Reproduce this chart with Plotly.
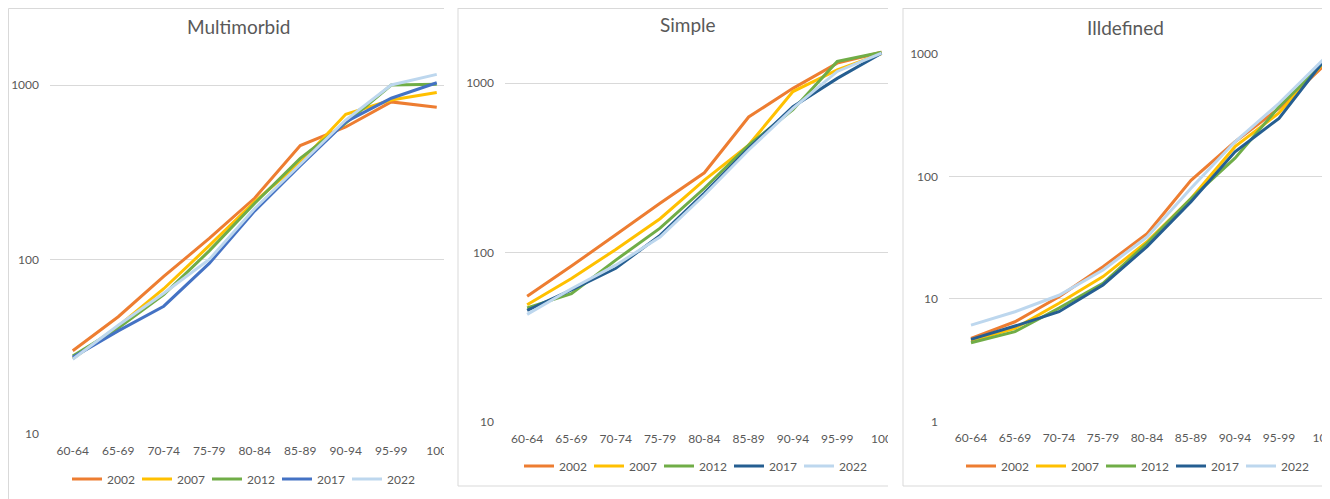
import plotly.graph_objects as go

# The page body has an 8px margin, so the figure is shifted by this offset
OFF = 8
W, H = 1330 - OFF, 499 - OFF

categories = ["60-64", "65-69", "70-74", "75-79", "80-84", "85-89", "90-94", "95-99", "100"]
years = ["2002", "2007", "2012", "2017", "2022"]
y_ticks = [1, 10, 100, 1000]

# Multimorbid
multimorbid_2002 = [30, 47, 80, 132, 225, 450, 575, 800, 745]
multimorbid_2007 = [27, 41.5, 68, 120, 215, 360, 680, 820, 905]
multimorbid_2012 = [28, 40.5, 63, 112, 210, 380, 605, 1000, 1010]
multimorbid_2017 = [27.5, 39, 54, 95, 190, 345, 615, 840, 1030]
multimorbid_2022 = [26.8, 42, 64, 100, 196, 350, 630, 1000, 1150]

# Simple
simple_2002 = [55, 83, 127, 195, 295, 630, 930, 1310, 1520]
simple_2007 = [49, 70, 104, 158, 267, 430, 890, 1195, 1490]
simple_2012 = [47, 57, 90, 139, 239, 430, 695, 1340, 1520]
simple_2017 = [45.5, 60, 80.5, 126, 224, 411, 724, 1065, 1500]
simple_2022 = [43, 61, 84, 123, 218, 402, 708, 1170, 1500]

# Illdefined
illdefined_2002 = [4.75, 6.5, 10.4, 18.3, 34, 93, 192, 360, 790]
illdefined_2007 = [4.55, 5.75, 9.2, 15.2, 29.3, 66, 175, 330, 840]
illdefined_2012 = [4.38, 5.4, 8.4, 13.4, 28.4, 66, 141, 370, 840]
illdefined_2017 = [4.67, 6.0, 7.85, 13, 26.7, 62, 159, 298, 865]
illdefined_2022 = [6.1, 7.85, 10.7, 17.2, 32, 80, 192, 396, 895]

FONT = "Lato, 'Open Sans', sans-serif"
TXT = "#595959"
GRID = "#D9D9D9"


def fx(x):
    return (x - OFF) / W


def fy(y):
    return 1 - (y - OFF) / H


panels = [
    dict(title="Multimorbid",
         series=[multimorbid_2002, multimorbid_2007, multimorbid_2012, multimorbid_2017, multimorbid_2022],
         colors=["#ED7D31", "#FFC000", "#70AD47", "#4472C4", "#BDD7EE"],
         left=50, right=444, top=45, bottom=434, step=45.5,
         ylog=(1, 1 + (434 - 45) / 174.5),
         title_xy=(238.5, 27), legend_xy=(67, 479)),
    dict(title="Simple",
         series=[simple_2002, simple_2007, simple_2012, simple_2017, simple_2022],
         colors=["#ED7D31", "#FFC000", "#70AD47", "#255E91", "#BDD7EE"],
         left=505, right=888, top=50, bottom=421.7, step=44.3,
         ylog=(1, 1 + (421.7 - 50) / 169.35),
         title_xy=(688, 25), legend_xy=(519, 466)),
    dict(title="Illdefined",
         series=[illdefined_2002, illdefined_2007, illdefined_2012, illdefined_2017, illdefined_2022],
         colors=["#ED7D31", "#FFC000", "#70AD47", "#255E91", "#BDD7EE"],
         left=949, right=1330, top=54, bottom=421.3, step=44.0,
         ylog=(0, 3),
         title_xy=(1125.5, 28), legend_xy=(961, 466)),
]

fig = go.Figure()
layout = dict(
    width=W, height=H,
    margin=dict(l=0, r=0, t=0, b=0, pad=0, autoexpand=False),
    paper_bgcolor="white", plot_bgcolor="white",
    font=dict(family=FONT, color=TXT, size=12),
    annotations=[], shapes=[],
)

for i, p in enumerate(panels):
    n = "" if i == 0 else str(i + 1)
    legname = "legend" + n
    for yr, vals, col in zip(years, p["series"], p["colors"]):
        fig.add_trace(go.Scatter(
            x=categories, y=vals, name=yr, mode="lines",
            line=dict(color=col, width=3),
            xaxis="x" + n, yaxis="y" + n, legend=legname,
        ))
    layout["xaxis" + n] = dict(
        domain=[fx(p["left"]), min(1, fx(p["right"]))],
        anchor="y" + n, type="category", categoryorder="array", categoryarray=categories,
        range=[-0.5, -0.5 + (p["right"] - p["left"]) / p["step"]],
        showgrid=False, zeroline=False, showline=False, ticks="",
        tickfont=dict(size=12, color=TXT, family=FONT), ticklabelstandoff=8,
        automargin=False, fixedrange=True,
    )
    layout["yaxis" + n] = dict(
        domain=[fy(p["bottom"]), fy(p["top"])],
        anchor="x" + n, type="log", range=list(p["ylog"]),
        tickvals=y_ticks, ticktext=[str(v) for v in y_ticks],
        showgrid=True, gridcolor=GRID, gridwidth=1,
        zeroline=False, showline=False, ticks="",
        tickfont=dict(size=12, color=TXT, family=FONT), ticklabelstandoff=10,
        automargin=False, fixedrange=True,
    )
    layout[legname] = dict(
        orientation="h", x=fx(p["legend_xy"][0]), y=fy(p["legend_xy"][1]),
        xanchor="left", yanchor="middle", xref="paper", yref="paper",
        font=dict(size=12, color=TXT, family=FONT), itemwidth=30,
        entrywidth=25, bgcolor="rgba(0,0,0,0)", borderwidth=0,
        traceorder="normal",
    )
    layout["annotations"].append(dict(
        x=fx(p["title_xy"][0]), y=fy(p["title_xy"][1]), xref="paper", yref="paper",
        text=p["title"], showarrow=False, xanchor="center", yanchor="middle",
        font=dict(size=19, color=TXT, family=FONT),
    ))

# white gaps between clipped panels
for x0, x1 in [(444, 457.5), (888, 902.5)]:
    layout["shapes"].append(dict(type="rect", xref="paper", yref="paper",
                                 x0=fx(x0), x1=fx(x1), y0=0, y1=1,
                                 fillcolor="white", line=dict(width=0), layer="above"))

# panel borders
border_lines = [
    (458, 2, 458, 486), (458, 8.5, 888, 8.5), (458, 486, 888, 486),
    (903, 2, 903, 486), (903, 8.5, 1330, 8.5), (903, 486, 1330, 486),
    (8.5, 8.5, 8.5, 499), (8.5, 8.5, 444, 8.5),
]
for x0, y0, x1, y1 in border_lines:
    layout["shapes"].append(dict(type="line", xref="paper", yref="paper",
                                 x0=fx(x0), y0=fy(y0), x1=fx(x1), y1=fy(y1),
                                 line=dict(color=GRID, width=1), layer="above"))

fig.update_layout(**layout)
fig.write_html("out.html")
